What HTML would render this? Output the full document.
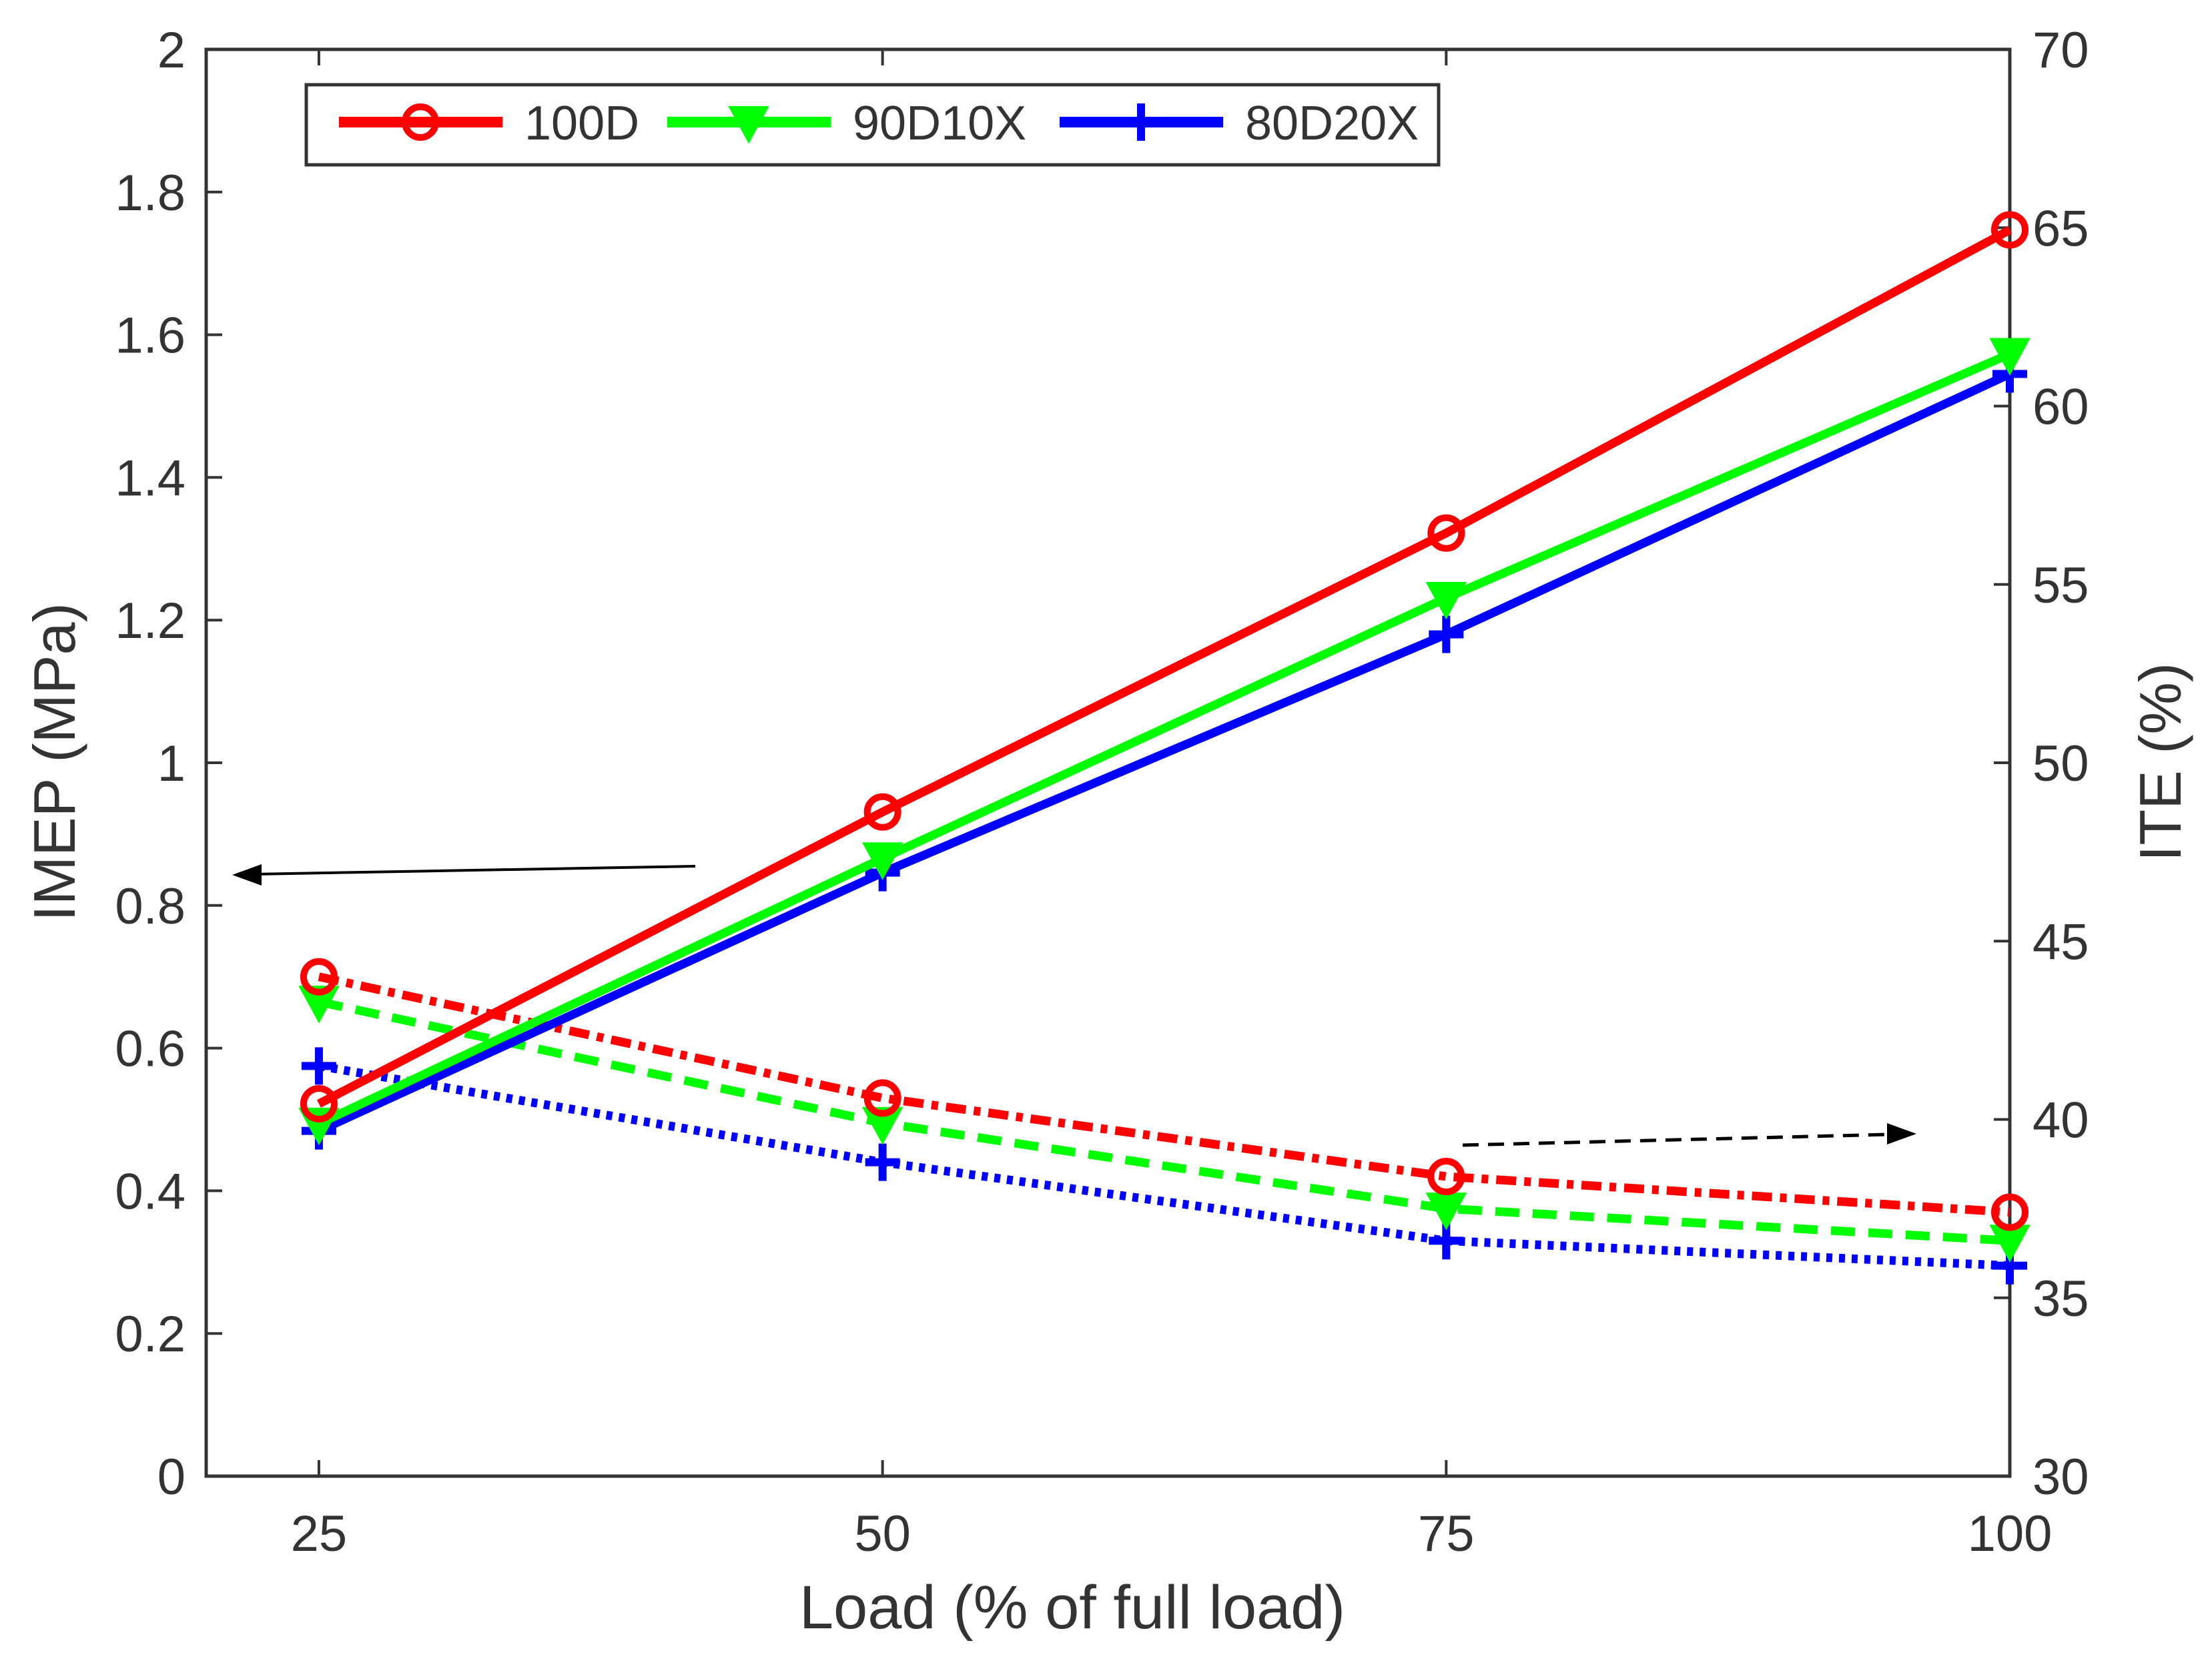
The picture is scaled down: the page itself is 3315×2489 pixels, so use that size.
<!DOCTYPE html>
<html><head><meta charset="utf-8"><style>
html,body{margin:0;padding:0;background:#fff;}
svg{display:block;}
text{font-family:"Liberation Sans",sans-serif;fill:#333;}
</style></head><body>
<svg id="chart" width="3315" height="2489" viewBox="0 0 3315 2489" xmlns="http://www.w3.org/2000/svg">
</svg>
<script>
const loads = [25, 50, 75, 100];
const imep100D = [0.522, 0.931, 1.322, 1.747];
const imep90D10X = [0.494, 0.866, 1.231, 1.573];
const imep80D20X = [0.484, 0.846, 1.180, 1.545];
const ite100D = [44.0, 40.6, 38.4, 37.4];
const ite90D10X = [43.3, 39.9, 37.5, 36.6];
const ite80D20X = [41.5, 38.8, 36.6, 35.9];
const xTicks = [25, 50, 75, 100];
const yLeftTicks = ["0","0.2","0.4","0.6","0.8","1","1.2","1.4","1.6","1.8","2"];
const yRightTicks = ["30","35","40","45","50","55","60","65","70"];

const L=309,R=3012,T=74,B=2212;
const sx=v=>L+(v-20)/(100-20)*(R-L);
const syL=v=>B-(v-0)/(2-0)*(B-T);
const syR=v=>B-(v-30)/(70-30)*(B-T);
const svg=document.getElementById('chart');
const NS='http://www.w3.org/2000/svg';
function mk(tag,attrs,parent){const e=document.createElementNS(NS,tag);for(const k in attrs)e.setAttribute(k,attrs[k]);(parent||svg).appendChild(e);return e;}

const frame=mk('rect',{x:L,y:T,width:R-L,height:B-T,fill:'none',stroke:'#333',"stroke-width":5});



xTicks.forEach(v=>{
  const x=sx(v);
  const t1=mk('line',{x1:x,x2:x,y1:B,y2:B-24,stroke:'#333',"stroke-width":4});
  
  
  mk('line',{x1:x,x2:x,y1:T,y2:T+24,stroke:'#333',"stroke-width":4});
  const tx=mk('text',{x:x,y:2324,"font-size":76,"text-anchor":"middle"});
  tx.textContent=v;
  
  
});
yLeftTicks.forEach(s=>{
  const y=syL(parseFloat(s));
  mk('line',{x1:L,x2:L+24,y1:y,y2:y,stroke:'#333',"stroke-width":4});
  const tx=mk('text',{x:278,y:y+27,"font-size":76,"text-anchor":"end"});
  tx.textContent=s;
  
  
});
yRightTicks.forEach(s=>{
  const y=syR(parseFloat(s));
  mk('line',{x1:R,x2:R-24,y1:y,y2:y,stroke:'#333',"stroke-width":4});
  const tx=mk('text',{x:3046,y:y+27,"font-size":76,"text-anchor":"start"});
  tx.textContent=s;
  
  
});

const xt=mk('text',{x:1607,y:2440,"font-size":92,"text-anchor":"middle"});
xt.textContent='Load (% of full load)';


const yl=mk('text',{x:0,y:0,"font-size":88,"text-anchor":"middle",transform:'translate(112,1142) rotate(-90)'});
yl.textContent='IMEP (MPa)';


const yr=mk('text',{x:0,y:0,"font-size":88,"text-anchor":"middle",transform:'translate(3268,1142) rotate(-90)'});
yr.textContent='ITE (%)';



function marker(type,x,y,color,g){
  if(type==='o') return mk('circle',{cx:x,cy:y,r:23,fill:'none',stroke:color,"stroke-width":10},g);
  if(type==='v') return mk('path',{d:`M${x-24},${y-20} L${x+24},${y-20} L${x},${y+24} Z`,fill:color,stroke:color,"stroke-width":8},g);
  return mk('path',{d:`M${x-26},${y} L${x+26},${y} M${x},${y-28} L${x},${y+28}`,fill:'none',stroke:color,"stroke-width":12},g);
}
function series(name,vals,sy,color,dash,mt){
  const g=mk('g',{});
  
  
  const pts=vals.map((v,i)=>sx(loads[i])+','+sy(v)).join(' ');
  const a={points:pts,fill:'none',stroke:color,"stroke-width":13,"stroke-linejoin":'round'};
  if(dash)a['stroke-dasharray']=dash;
  mk('polyline',a,g);
  vals.forEach((v,i)=>{
    const m=marker(mt,sx(loads[i]),sy(v),color,g);
    
    
  });
}
series('ite-80d20x',ite80D20X,syR,'#0000ff','9 10','+');
series('ite-90d10x',ite90D10X,syR,'#00ff00','36 20','v');
series('ite-100d',ite100D,syR,'#ff0000','30 12 10 12','o');
series('imep-80d20x',imep80D20X,syL,'#0000ff',null,'+');
series('imep-90d10x',imep90D10X,syL,'#00ff00',null,'v');
series('imep-100d',imep100D,syL,'#ff0000',null,'o');

const a1=mk('g',{});


mk('line',{x1:1042,y1:1298,x2:380,y2:1310,stroke:'#000',"stroke-width":4},a1);
mk('path',{d:'M348,1311 L392,1295 L392,1327 Z',fill:'#000'},a1);
const a2=mk('g',{});


mk('line',{x1:2192,y1:1716,x2:2830,y2:1700,stroke:'#000',"stroke-width":5,"stroke-dasharray":'24 14'},a2);
mk('path',{d:'M2872,1699 L2828,1683 L2828,1715 Z',fill:'#000'},a2);

const lg=mk('g',{});


mk('rect',{x:459,y:127,width:1697,height:120,fill:'#fff',stroke:'#333',"stroke-width":5},lg);
const entries=[['100D','#ff0000','o',508],['90D10X','#00ff00','v',1000],['80D20X','#0000ff','+',1588]];
entries.forEach(e=>{
  const eg=mk('g',{},lg);
  
  
  const x0=e[3],y=183;
  mk('line',{x1:x0,x2:x0+245,y1:y,y2:y,stroke:e[1],"stroke-width":16},eg);
  marker(e[2],x0+122,y,e[1],eg);
  const t=mk('text',{x:x0+278,y:y+26,"font-size":72},eg);
  t.textContent=e[0];
});
</script>
</body></html>
